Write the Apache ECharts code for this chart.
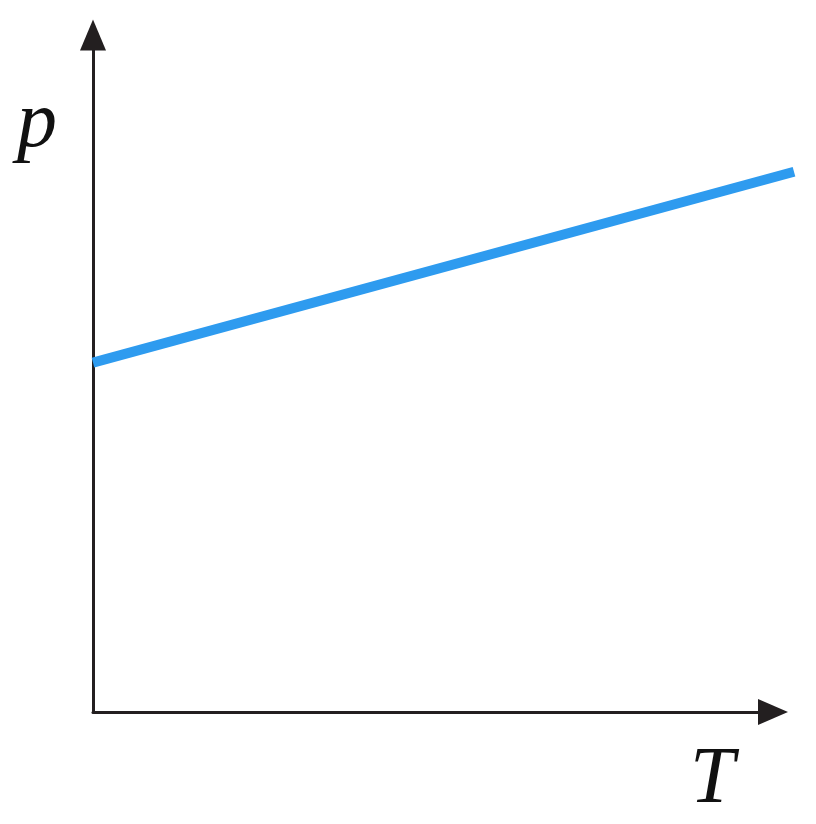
<!DOCTYPE html>
<html>
<head>
<meta charset="utf-8">
<script src="https://cdn.jsdelivr.net/npm/echarts@6/dist/echarts.min.js"></script>
<style>html,body{margin:0;padding:0;background:#fff;}#c{width:816px;height:824px;}</style>
</head>
<body>
<div id="c"></div>
<script>
// Data (arbitrary units, no ticks shown)
const T_values = [0, 103.1];
const p_values = [51.6, 79.8];
const xLabel = 'T';
const yLabel = 'p';

const chart = echarts.init(document.getElementById('c'), null, {renderer: 'canvas'});
const axisColor = '#231f20';
const hiddenAxis = {axisLine: {show: false}, axisTick: {show: false}, axisLabel: {show: false}, splitLine: {show: false}};
chart.setOption({
  backgroundColor: '#ffffff',
  animation: false,
  grid: [
    {left: 93, top: 35, right: 43, bottom: 112, containLabel: false},
    {left: 93, top: 35, right: 22, bottom: 112, containLabel: false}
  ],
  xAxis: [{
    type: 'value', min: 0, max: 100, gridIndex: 0,
    axisLine: {show: true, lineStyle: {color: axisColor, width: 3}, symbol: ['none', 'triangle'], symbolSize: [26, 30]},
    axisTick: {show: false}, axisLabel: {show: false}, splitLine: {show: false}
  }, Object.assign({type: 'value', min: 0, max: 103.1, gridIndex: 1}, hiddenAxis)],
  yAxis: [{
    type: 'value', min: 0, max: 100, gridIndex: 0,
    axisLine: {show: true, lineStyle: {color: axisColor, width: 3}, symbol: ['none', 'triangle'], symbolSize: [26, 31]},
    axisTick: {show: false}, axisLabel: {show: false}, splitLine: {show: false}
  }, Object.assign({type: 'value', min: 0, max: 100, gridIndex: 1}, hiddenAxis)],
  series: [{
    type: 'line',
    xAxisIndex: 1, yAxisIndex: 1,
    data: T_values.map((t, i) => [t, p_values[i]]),
    showSymbol: false,
    clip: false,
    lineStyle: {color: '#2e9bef', width: 10, cap: 'butt'},
    z: 1
  }],
  graphic: [
    {type: 'text', left: 17, top: 85, style: {text: yLabel, font: 'italic 80px "Liberation Serif"', fill: '#111'}},
    {type: 'text', left: 690, top: 741, style: {text: xLabel, font: 'italic 80px "Liberation Serif"', fill: '#111'}}
  ]
});
</script>
</body>
</html>
